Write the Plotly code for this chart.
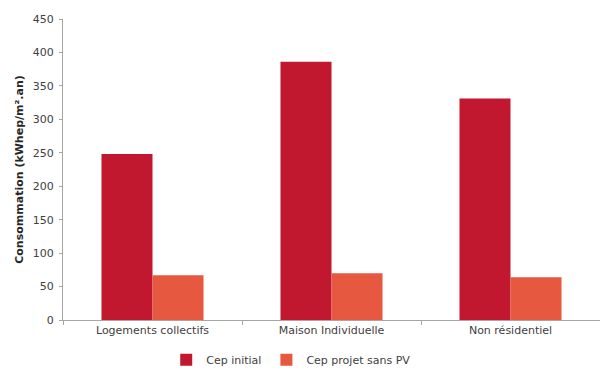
import plotly.graph_objects as go

categories = ["Logements collectifs", "Maison Individuelle", "Non résidentiel"]
cep_initial = [248, 386, 331]
cep_projet_sans_pv = [67, 70, 64]
y_ticks = [0, 50, 100, 150, 200, 250, 300, 350, 400, 450]

RED = "#C1172F"
ORANGE = "#E65840"
AXIS = "#A6A6A6"
FONT = "DejaVu Sans"

fig = go.Figure()
fig.add_trace(go.Bar(name="Cep initial", x=categories, y=cep_initial,
                     marker=dict(color=RED, line=dict(width=0))))
fig.add_trace(go.Bar(name="Cep projet sans PV", x=categories, y=cep_projet_sans_pv,
                     marker=dict(color=ORANGE, line=dict(width=0))))

fig.update_layout(
    width=600, height=369,
    margin=dict(l=63, r=0, t=19, b=49, autoexpand=False),
    paper_bgcolor="white", plot_bgcolor="white",
    barmode="group", bargap=0.43, bargroupgap=0,
    font=dict(family=FONT, size=11, color="#404040"),
    showlegend=True,
    legend=dict(orientation="h", x=0.425, xanchor="center",
                yref="container", y=0.025, yanchor="middle",
                font=dict(size=11, color="#404040"), itemwidth=30,
                traceorder="normal", tracegroupgap=0),
)
fig.update_xaxes(
    showline=True, linecolor=AXIS, linewidth=1,
    ticks="outside", tickson="boundaries", ticklen=4, tickcolor=AXIS,
    showgrid=False, tickfont=dict(size=11, color="#404040"),
)
fig.update_yaxes(
    range=[0, 450], tickvals=y_ticks,
    showline=True, linecolor=AXIS, linewidth=1,
    ticks="outside", ticklen=3, tickcolor=AXIS, ticklabelstandoff=3,
    showgrid=False, zeroline=False,
    tickfont=dict(size=11, color="#404040"),
    title=dict(text="<b>Consommation (kWhep/m².an)</b>", font=dict(size=11, color="#262626"), standoff=6),
)

fig.write_html("out.html")
